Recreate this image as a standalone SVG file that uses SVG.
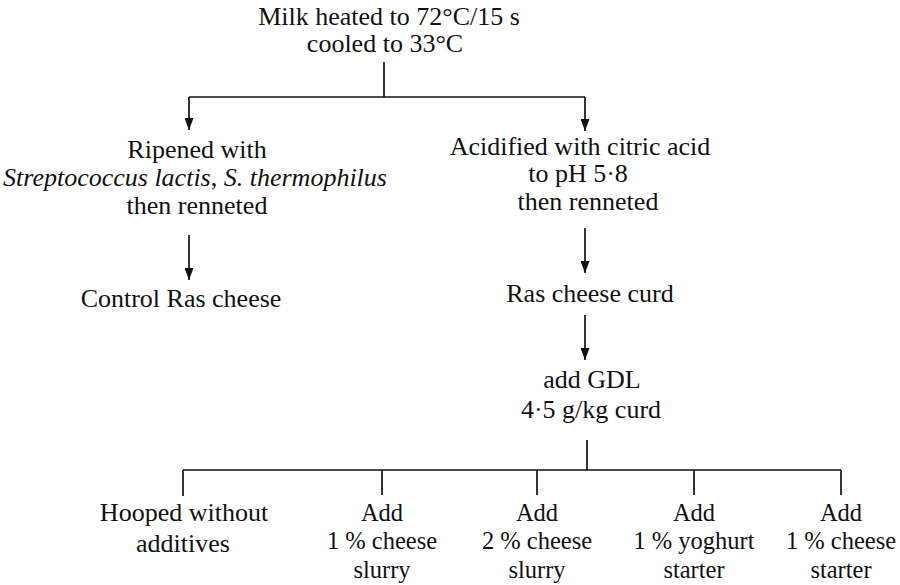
<svg xmlns="http://www.w3.org/2000/svg" width="900" height="585" viewBox="0 0 900 585">
<style>
text{font-family:"Liberation Serif","Times New Roman",serif;font-size:26px;fill:#111;text-anchor:middle}
.it{font-style:italic}
.sm{font-size:24.5px}
.ln{stroke:#111;stroke-width:1.7;fill:none}
</style>
<defs>
<marker id="ah" viewBox="0 0 12 9" refX="12" refY="4.5" markerWidth="12" markerHeight="9" markerUnits="userSpaceOnUse" orient="auto">
<path d="M0,0 L12,4.5 L0,9 Z" fill="#111"/>
</marker>
</defs>
<g id="connectors" class="ln">
<path d="M384,62 V97"/>
<path d="M189,97 H585"/>
<path d="M189,97 V130" marker-end="url(#ah)"/>
<path d="M585,97 V131" marker-end="url(#ah)"/>
<path d="M189,235 V280" marker-end="url(#ah)"/>
<path d="M585,228 V273" marker-end="url(#ah)"/>
<path d="M585,315 V360" marker-end="url(#ah)"/>
<path d="M587,440 V470"/>
<path d="M183,470 H841"/>
<path d="M183,470 V496"/>
<path d="M382,470 V495"/>
<path d="M537,470 V495"/>
<path d="M694,470 V495"/>
<path d="M841,470 V495"/>
</g>
<g id="n-milk">
<text x="389" y="25">Milk heated to 72°C/15 s</text>
<text x="385" y="52">cooled to 33°C</text>
</g>
<g id="n-ripened">
<text x="197" y="158">Ripened with</text>
<text x="195" y="186"><tspan class="it">Streptococcus lactis</tspan>, <tspan class="it">S. thermophilus</tspan></text>
<text x="197" y="214">then renneted</text>
</g>
<g id="n-control">
<text x="181" y="307">Control Ras cheese</text>
</g>
<g id="n-acidified">
<text x="580" y="155">Acidified with citric acid</text>
<text x="578" y="182">to pH 5·8</text>
<text x="588" y="210">then renneted</text>
</g>
<g id="n-curd">
<text x="590" y="302">Ras cheese curd</text>
</g>
<g id="n-gdl">
<text x="592" y="388">add GDL</text>
<text x="591" y="418">4·5 g/kg curd</text>
</g>
<g id="n-hooped">
<text x="184" y="521">Hooped without</text>
<text x="183" y="552">additives</text>
</g>
<g id="n-1slurry" class="sm">
<text class="sm" x="382" y="521">Add</text>
<text class="sm" x="382" y="549">1 % cheese</text>
<text class="sm" x="382" y="578">slurry</text>
</g>
<g id="n-2slurry">
<text class="sm" x="537" y="521">Add</text>
<text class="sm" x="537" y="549">2 % cheese</text>
<text class="sm" x="537" y="578">slurry</text>
</g>
<g id="n-yoghurt">
<text class="sm" x="694" y="521">Add</text>
<text class="sm" x="694" y="549">1 % yoghurt</text>
<text class="sm" x="694" y="578">starter</text>
</g>
<g id="n-cstarter">
<text class="sm" x="841" y="521">Add</text>
<text class="sm" x="841" y="549">1 % cheese</text>
<text class="sm" x="841" y="578">starter</text>
</g>
</svg>
